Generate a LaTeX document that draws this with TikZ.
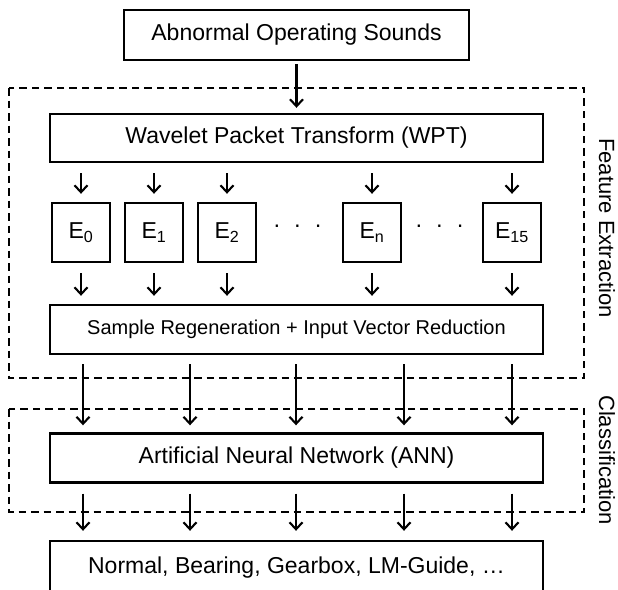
\documentclass[tikz,border=0pt]{standalone}
\usepackage{fontspec}
\setmainfont{Liberation Sans}
\usetikzlibrary{arrows.meta}

\begin{document}
\begin{tikzpicture}[x=1pt,y=-1pt,
    blk/.style={draw,line width=2.4pt,inner sep=0pt,font=\fontsize{23}{27}\selectfont},
    ebox/.style={blk,minimum width=58pt,minimum height=59pt},
    wide/.style={blk,minimum width=493pt,minimum height=49pt},
    arr/.style={line width=2.1pt,-{Straight Barb[length=7pt,width=13pt,line width=2.1pt]}},
    region/.style={draw,line width=2.4pt,dash pattern=on 7.5pt off 5pt},
    side/.style={rotate=-90,font=\fontsize{22}{26}\selectfont}]
  \useasboundingbox (0,0) rectangle (618,589);

  % stages
  \node[blk,minimum width=345pt,minimum height=50pt] (sounds) at (296.5,35) {Abnormal Operating Sounds};
  \node[wide,minimum height=48pt] (wpt) at (296.5,138) {Wavelet Packet Transform (WPT)};
  \node[ebox] (e0) at (81,232.5) {E\textsubscript{0}};
  \node[ebox] (e1) at (154,232.5) {E\textsubscript{1}};
  \node[ebox] (e2) at (227,232.5) {E\textsubscript{2}};
  \node[ebox] (en) at (372,232.5) {E\textsubscript{n}};
  \node[ebox] (e15) at (512,232.5) {E\textsubscript{15}};
  \node[font=\fontsize{23}{27}\selectfont] (dotsa) at (297.5,229) {·\hspace{13pt}·\hspace{13pt}·};
  \node[font=\fontsize{23}{27}\selectfont] (dotsb) at (439.5,229) {·\hspace{13pt}·\hspace{13pt}·};
  \node[wide,font=\fontsize{20}{24}\selectfont] (sample) at (296.5,329.5) {Sample Regeneration + Input Vector Reduction};
  \node[wide] (ann) at (296.5,458) {Artificial Neural Network (ANN)};
  \node[wide,minimum height=54pt] (fault) at (296.5,568) {Normal, Bearing, Gearbox, LM-Guide, …};

  % regions
  \draw[region] (9,88) rectangle (584,378);
  \draw[region] (9,409) rectangle (584,512);
  \node[side] (featlbl) at (607,228) {Feature Extraction};
  \node[side] (clslbl) at (607,460) {Classification};

  % arrows
  \draw[arr,shorten <=3pt,shorten >=5pt] (sounds) -- (wpt);
  \foreach \e in {e0,e1,e2,en,e15} {
    \draw[arr,shorten <=10pt,shorten >=8pt] (wpt.south -| \e) -- (\e);
    \draw[arr,shorten <=10pt,shorten >=8pt] (\e) -- (sample.north -| \e);
  }
  \foreach \x in {83,190,296,404,512} {
    \draw[arr,shorten <=9pt,shorten >=7pt] (sample.south -| \x,0) -- (ann.north -| \x,0);
    \draw[arr,shorten <=10pt,shorten >=9pt] (ann.south -| \x,0) -- (fault.north -| \x,0);
  }
\end{tikzpicture}
\end{document}
